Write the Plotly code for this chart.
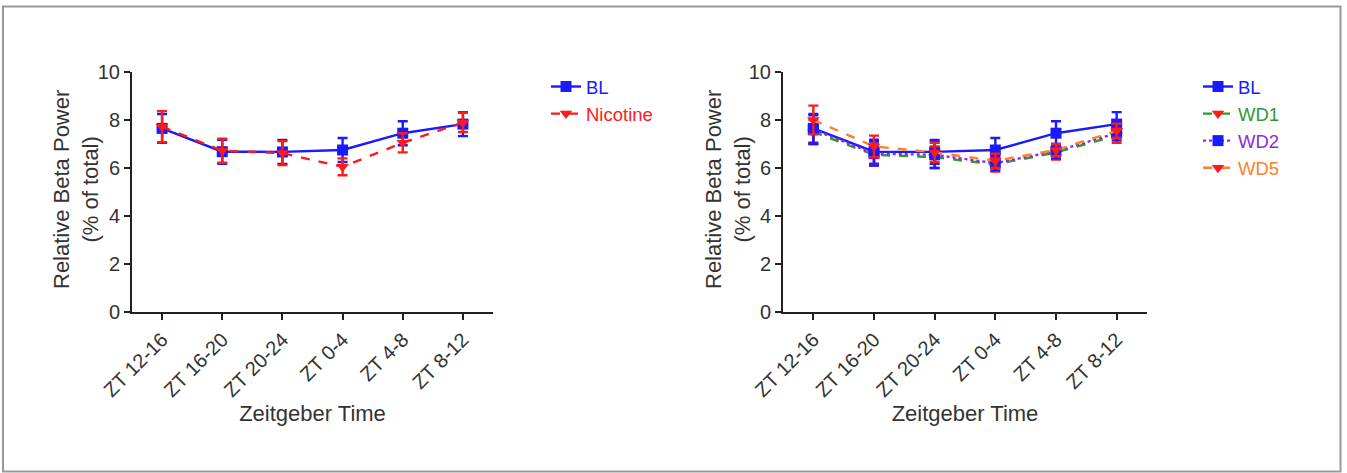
import plotly.graph_objects as go

categories = ["ZT 12-16", "ZT 16-20", "ZT 20-24", "ZT 0-4", "ZT 4-8", "ZT 8-12"]

bl_mean = [7.65, 6.68, 6.67, 6.75, 7.45, 7.83]
bl_err = [0.6, 0.5, 0.5, 0.5, 0.5, 0.5]

nic_mean = [7.72, 6.72, 6.62, 6.05, 7.05, 7.9]
nic_err = [0.65, 0.5, 0.5, 0.35, 0.4, 0.4]

wd1_mean = [7.5, 6.55, 6.45, 6.15, 6.65, 7.35]
wd1_err = [0.5, 0.45, 0.45, 0.3, 0.3, 0.3]
wd2_mean = [7.6, 6.6, 6.55, 6.2, 6.7, 7.45]
wd2_err = [0.6, 0.5, 0.55, 0.3, 0.3, 0.3]
wd5_mean = [8.0, 6.9, 6.65, 6.3, 6.75, 7.55]
wd5_err = [0.6, 0.45, 0.4, 0.3, 0.25, 0.3]

y_title = "Relative Beta Power<br>(% of total)"
x_title = "Zeitgeber Time"

FONT = "Liberation Sans, Arial, sans-serif"
BLUE = "#1a1aff"
RED = "#ff1a1a"
GREEN = "#2f9a2f"
PURPLE = "#8a2be2"
ORANGE = "#ff7f2a"

W, H = 1347, 473

fig = go.Figure()


def add(xa, ya, leg, name, y, e, lcolor, mcolor, symbol, dash, tcolor):
    fig.add_trace(go.Scatter(
        x=categories, y=y, xaxis=xa, yaxis=ya, legend=leg,
        name=f"<span style='color:{tcolor}'>{name}</span>",
        mode="lines+markers",
        line=dict(color=lcolor, width=2.4, dash=dash),
        marker=dict(color=mcolor, symbol=symbol, size=11, line=dict(width=0)),
        error_y=dict(type="data", array=e, visible=True, color=mcolor, thickness=2.4, width=5),
    ))


add("x", "y", "legend", "BL", bl_mean, bl_err, BLUE, BLUE, "square", "solid", BLUE)
add("x", "y", "legend", "Nicotine", nic_mean, nic_err, RED, RED, "triangle-down", "dash", RED)

add("x2", "y2", "legend2", "BL", bl_mean, bl_err, BLUE, BLUE, "square", "solid", BLUE)
add("x2", "y2", "legend2", "WD1", wd1_mean, wd1_err, GREEN, RED, "triangle-down", "dash", GREEN)
add("x2", "y2", "legend2", "WD2", wd2_mean, wd2_err, PURPLE, BLUE, "square", "dot", PURPLE)
add("x2", "y2", "legend2", "WD5", wd5_mean, wd5_err, ORANGE, RED, "triangle-down", "dash", ORANGE)

ydom = [1 - 312 / H, 1 - 72 / H]

xcommon = dict(
    type="category", range=[-0.5, 5.5], showline=True, linecolor="#222", linewidth=2,
    ticks="outside", ticklen=6, tickwidth=2, tickcolor="#222", tickangle=-45,
    tickfont=dict(family=FONT, size=20, color="#333"),
    title=dict(text=x_title, font=dict(family=FONT, size=22, color="#333"), standoff=2),
    showgrid=False, zeroline=False, automargin=False,
)
ycommon = dict(
    range=[0, 10], tickvals=[0, 2, 4, 6, 8, 10], showline=True, linecolor="#222", linewidth=2,
    ticks="outside", ticklen=6, tickwidth=2, tickcolor="#222",
    tickfont=dict(family=FONT, size=20, color="#333"),
    showgrid=False, zeroline=False, automargin=False, domain=ydom,
)

annotations = []
for xc in (76, 728):
    annotations.append(dict(
        text=y_title, textangle=-90, xref="paper", yref="paper",
        x=xc / W, y=1 - 190 / H, xanchor="center", yanchor="middle", showarrow=False,
        font=dict(family=FONT, size=22, color="#333"),
    ))

fig.update_layout(
    width=W, height=H,
    margin=dict(l=0, r=0, t=0, b=0),
    paper_bgcolor="white", plot_bgcolor="white",
    xaxis=dict(domain=[132 / W, 493 / W], anchor="y", **xcommon),
    yaxis=dict(anchor="x", **ycommon),
    xaxis2=dict(domain=[783 / W, 1147 / W], anchor="y2", **xcommon),
    yaxis2=dict(anchor="x2", **ycommon),
    legend=dict(x=546 / W, y=1 - 68 / H, xanchor="left", yanchor="top",
                font=dict(family=FONT, size=18.5), bgcolor="rgba(0,0,0,0)"),
    legend2=dict(x=1198 / W, y=1 - 68 / H, xanchor="left", yanchor="top",
                 font=dict(family=FONT, size=18.5), bgcolor="rgba(0,0,0,0)"),
    annotations=annotations,
    shapes=[dict(type="rect", xref="paper", yref="paper",
                 x0=3 / W, x1=1340.5 / W, y0=1 - 471.5 / H, y1=1 - 6.5 / H,
                 line=dict(color="#9a9a9a", width=2))],
)

fig.write_html("out.html")
